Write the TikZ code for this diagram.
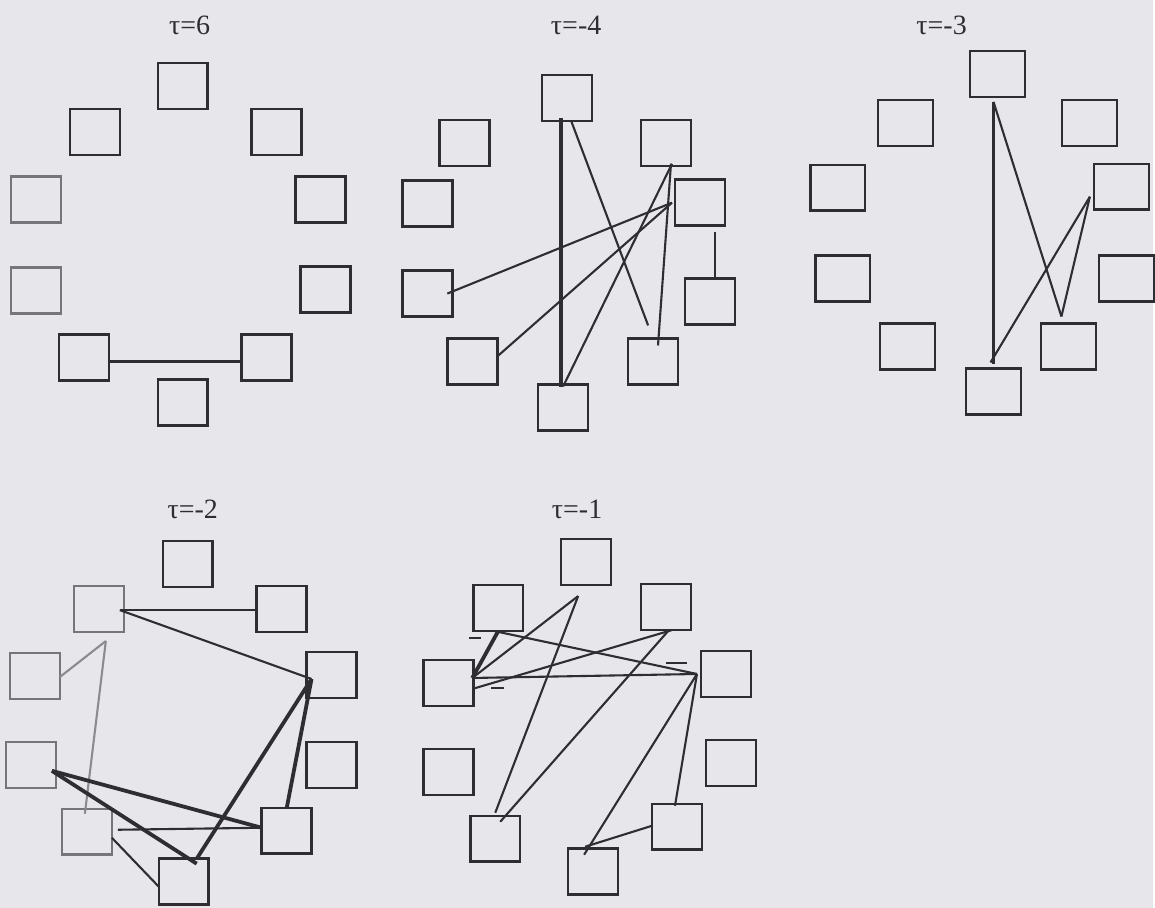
\documentclass[tikz,border=0pt]{standalone}
\usepackage{fontspec}
\setmainfont{Liberation Serif}
\definecolor{paper}{RGB}{231,231,235}
\definecolor{ink}{RGB}{45,45,50}

\begin{document}
\begin{tikzpicture}[
  x=0.5pt, y=-0.5pt,
  cell/.style={draw=ink, line width=1.25pt, minimum width=25pt, minimum height=23pt, inner sep=0pt, outer sep=0pt},
  wcell/.style={cell, minimum width=27.5pt},
  faded/.style={draw=ink!65},
  tau/.style={font=\fontsize{14}{16}\selectfont, text=ink},
  link/.style={draw=ink, line width=1.05pt},
  heavy/.style={draw=ink, line width=1.9pt},
  pale/.style={draw=ink!55, line width=1.05pt},
  tick/.style={draw=ink, line width=1.1pt}
]
\path[fill=paper] (0,0) rectangle (1155,909);

% tau=6
\node[tau] (t6) at (190,25) {τ=6};
\node[cell] (A1) at (183,86) {};
\node[cell] (A2) at (95,132) {};
\node[cell] (A3) at (277,132) {};
\node[cell, faded] (A4) at (36,200) {};
\node[cell] (A5) at (321,200) {};
\node[cell, faded] (A6) at (36,291) {};
\node[cell] (A7) at (326,290) {};
\node[cell] (A8) at (84,358) {};
\node[cell] (A9) at (267,358) {};
\node[cell] (A10) at (183,403) {};

\draw[link] ([yshift=-2pt]A8.east) -- ([yshift=-2pt]A9.west);

% tau=-4
\node[tau] (t4) at (577,25) {τ=-4};
\node[cell] (B1) at (568,98) {};
\node[cell] (B2) at (465,143) {};
\node[cell] (B3) at (667,143) {};
\node[cell] (B4) at (428,204) {};
\node[cell] (B5) at (701,203) {};
\node[cell] (B6) at (428,294) {};
\node[cell] (B7) at (711,302) {};
\node[cell] (B8) at (473,362) {};
\node[cell] (B9) at (654,362) {};
\node[cell] (B10) at (564,408) {};

\draw[heavy] ([xshift=-3pt,yshift=1.5pt]B1.south) -- ([xshift=-1pt,yshift=-1.5pt]B10.north);
\draw[link, shorten >=7pt] ([xshift=2pt]B1.south) -- (B9.north);
\draw[link] ([xshift=2.5pt,yshift=1pt]B3.south) -- ([xshift=2.5pt,yshift=-3.5pt]B9.north);
\draw[link] ([xshift=3pt,yshift=1pt]B3.south) -- ([yshift=-1pt]B10.north);
\draw[link] ([xshift=-1.5pt]B5.west) -- ([xshift=-2.5pt]B6.east);
\draw[link] ([xshift=-1.5pt]B5.west) -- ([yshift=2.5pt]B8.east);
\draw[link] ([xshift=7.5pt,yshift=-3pt]B5.south) -- ([xshift=2.5pt]B7.north);

% tau=-3
\node[tau] (t3) at (943,25) {τ=-3};
\node[wcell] (C1) at (999,74) {};
\node[wcell] (C2) at (907,123) {};
\node[wcell] (C3) at (1091,123) {};
\node[wcell] (C4) at (839,188) {};
\node[wcell] (C5) at (1123,187) {};
\node[wcell] (C6) at (844,279) {};
\node[wcell] (C7) at (1128,279) {};
\node[wcell] (C8) at (909,347) {};
\node[wcell] (C9) at (1070,347) {};
\node[wcell] (C10) at (995,392) {};

\draw[link] ([xshift=-2pt,yshift=-2.5pt]C1.south) -- ([yshift=2pt]C10.north);
\draw[link] ([xshift=-2pt,yshift=-2.5pt]C1.south) -- ([xshift=-3.5pt,yshift=3.5pt]C9.north);
\draw[link] ([xshift=-2pt,yshift=-5pt]C5.west) -- ([xshift=-3.5pt,yshift=3.5pt]C9.north);
\draw[link] ([xshift=-2pt,yshift=-5pt]C5.west) -- ([xshift=-1.5pt,yshift=3pt]C10.north);

% tau=-2
\node[tau] (t2) at (193,510) {τ=-2};
\node[cell] (D1) at (188,565) {};
\node[cell, faded] (D2) at (99,610) {};
\node[cell] (D3) at (282,610) {};
\node[cell, faded] (D4) at (35,677) {};
\node[cell] (D5) at (332,676) {};
\node[cell, faded] (D6) at (31,766) {};
\node[cell] (D7) at (332,766) {};
\node[cell, faded] (D8) at (87,833) {};
\node[cell] (D9) at (287,832) {};
\node[cell] (D10) at (184,883) {};

\draw[link] ([xshift=-2pt,yshift=-0.5pt]D2.east) -- ([yshift=-0.5pt]D3.west);
\draw[link] ([xshift=-2pt,yshift=-0.5pt]D2.east) -- ([xshift=2.5pt,yshift=-2pt]D5.west);
\draw[pale] ([xshift=3.5pt,yshift=-4.5pt]D2.south) -- ([yshift=-0.5pt]D4.east);
\draw[pale] ([xshift=3.5pt,yshift=-4.5pt]D2.south) -- ([xshift=-1pt,yshift=-2.5pt]D8.north);
\draw[heavy] ([xshift=2.5pt,yshift=-2pt]D5.west) -- ([xshift=6.5pt]D10.north);
\draw[heavy] ([xshift=2.5pt,yshift=-2pt]D5.west) -- ([yshift=-0.5pt]D9.north);
\draw[heavy] ([xshift=-2pt,yshift=-3pt]D6.east) -- ([yshift=1.5pt]D9.west);
\draw[heavy] ([xshift=-2pt,yshift=-3pt]D6.east) -- ([xshift=6.5pt,yshift=-2.5pt]D10.north);
\draw[link] ([xshift=3pt,yshift=1pt]D8.east) -- ([yshift=1.5pt]D9.west);
\draw[link] ([yshift=-3pt]D8.east) -- ([yshift=-2.5pt]D10.west);

% tau=-1
\node[tau] (t1) at (578,510) {τ=-1};
\node[cell] (E1) at (587,563) {};
\node[cell] (E2) at (499,609) {};
\node[cell] (E3) at (667,608) {};
\node[cell] (E4) at (449,684) {};
\node[cell] (E5) at (727,675) {};
\node[cell] (E6) at (449,773) {};
\node[cell] (E7) at (732,764) {};
\node[cell] (E8) at (496,840) {};
\node[cell] (E9) at (678,828) {};
\node[cell] (E10) at (594,873) {};

\draw[heavy] ([xshift=-0.5pt,yshift=2.5pt]E4.east) -- (E2.south);
\draw[link] ([xshift=-0.5pt,yshift=2.5pt]E4.east) -- ([xshift=-4pt,yshift=-5.5pt]E1.south);
\draw[link] ([xshift=-0.5pt,yshift=2.5pt]E4.east) -- ([xshift=-2pt]E5.west);
\draw[link] ([xshift=-0.5pt,yshift=-3pt]E4.east) -- ([xshift=3pt]E3.south);
\draw[link] ([xshift=-2pt]E2.south) -- ([xshift=-2pt]E5.west);
\draw[link] ([xshift=-4pt,yshift=-5.5pt]E1.south) -- ([yshift=1.5pt]E8.north);
\draw[link] ([xshift=1.5pt]E3.south) -- ([xshift=2.5pt,yshift=-3pt]E8.north);
\draw[link] ([xshift=-2pt]E5.west) -- ([xshift=-4.5pt,yshift=-3pt]E10.north);
\draw[link] ([xshift=-2pt]E5.west) -- ([xshift=-1pt,yshift=-1pt]E9.north);
\draw[link] ([yshift=0.5pt]E9.west) -- ([xshift=-4pt,yshift=1pt]E10.north);

\draw[tick] (470,639) -- ++(12,0);
\draw[tick] (492,689) -- ++(13,0);
\draw[tick] (667,664) -- ++(21,0);

\end{tikzpicture}
\end{document}
